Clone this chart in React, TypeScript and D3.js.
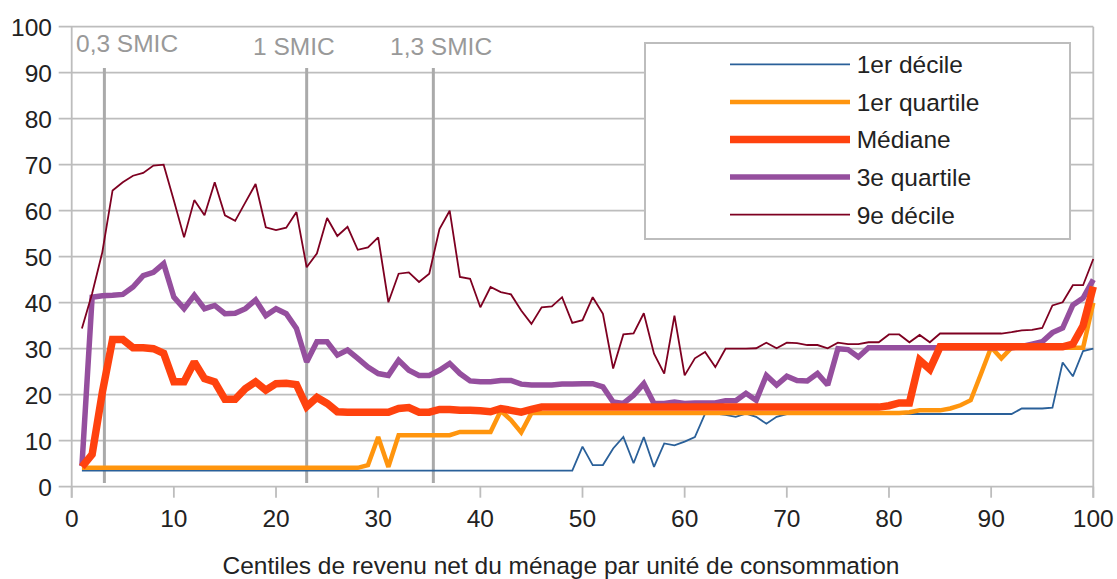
import React from 'react'
import * as d3 from 'd3'

// centiles 1..100
const decile1 = [
  3.5, 3.5, 3.5, 3.5, 3.5, 3.5, 3.5, 3.5, 3.5, 3.5,
  3.5, 3.5, 3.5, 3.5, 3.5, 3.5, 3.5, 3.5, 3.5, 3.5,
  3.5, 3.5, 3.5, 3.5, 3.5, 3.5, 3.5, 3.5, 3.5, 3.5,
  3.5, 3.5, 3.5, 3.5, 3.5, 3.5, 3.5, 3.5, 3.5, 3.5,
  3.5, 3.5, 3.5, 3.5, 3.5, 3.5, 3.5, 3.5, 3.5, 8.7,
  4.7, 4.7, 8.3, 10.8, 5.1, 10.8, 4.3, 9.4, 9, 9.8,
  10.8, 15.9, 15.9, 15.6, 15.2, 15.9, 15.2, 13.7, 15.2, 15.8,
  15.8, 15.8, 15.8, 15.8, 15.8, 15.8, 15.8, 15.8, 15.8, 15.8,
  15.8, 15.8, 15.8, 15.8, 15.8, 15.8, 15.8, 15.8, 15.8, 15.8,
  15.8, 15.8, 17, 17, 17, 17.2, 27, 24, 29.5, 30
]

const quartile1 = [
  4.1, 4.1, 4.1, 4.1, 4.1, 4.1, 4.1, 4.1, 4.1, 4.1,
  4.1, 4.1, 4.1, 4.1, 4.1, 4.1, 4.1, 4.1, 4.1, 4.1,
  4.1, 4.1, 4.1, 4.1, 4.1, 4.1, 4.1, 4.1, 4.7, 10.8,
  4.3, 11.2, 11.2, 11.2, 11.2, 11.2, 11.2, 11.9, 11.9, 11.9,
  11.9, 16.5, 14.5, 11.8, 16, 16, 16, 16, 16, 16,
  16, 16, 16, 16, 16, 16, 16, 16, 16, 16,
  16, 16, 16, 16, 16, 16, 16, 16, 16, 16,
  16, 16, 16, 16, 16, 16, 16, 16, 16, 16,
  16, 16.2, 16.6, 16.6, 16.6, 17, 17.7, 18.8, 24.5, 30.3,
  27.9, 30.2, 30.2, 30.2, 30.2, 30.2, 30.2, 30.2, 30.2, 40
]

const mediane = [
  4.3, 7, 20.5, 32, 32, 30.2, 30.2, 30, 29, 22.8,
  22.8, 27.1, 23.5, 22.8, 19, 19, 21.3, 22.8, 21, 22.4,
  22.5, 22.2, 17.4, 19.4, 18.1, 16.3, 16.2, 16.2, 16.2, 16.2,
  16.2, 17, 17.2, 16.2, 16.2, 16.8, 16.8, 16.6, 16.6, 16.5,
  16.3, 17, 16.6, 16.2, 16.8, 17.3, 17.3, 17.3, 17.3, 17.3,
  17.3, 17.3, 17.3, 17.3, 17.3, 17.3, 17.3, 17.3, 17.3, 17.3,
  17.3, 17.3, 17.3, 17.3, 17.3, 17.3, 17.3, 17.3, 17.3, 17.3,
  17.3, 17.3, 17.3, 17.3, 17.3, 17.3, 17.3, 17.3, 17.3, 17.6,
  18.2, 18.2, 27.5, 25.5, 30.4, 30.4, 30.4, 30.4, 30.4, 30.4,
  30.4, 30.4, 30.4, 30.4, 30.4, 30.4, 30.4, 31, 35, 43.5
]

const quartile3 = [
  4.5, 41.2, 41.5, 41.6, 41.8, 43.4, 45.9, 46.6, 48.5, 41.2,
  38.7, 41.6, 38.7, 39.4, 37.6, 37.7, 38.7, 40.6, 37.2, 38.7,
  37.6, 34.4, 27.1, 31.5, 31.5, 28.6, 29.7, 27.9, 26, 24.6,
  24.2, 27.5, 25.3, 24.2, 24.2, 25.3, 26.8, 24.6, 23, 22.8,
  22.8, 23.1, 23.1, 22.3, 22.1, 22.1, 22.1, 22.3, 22.3, 22.4,
  22.4, 21.7, 18.4, 18.1, 19.9, 22.4, 18.1, 18.1, 18.4, 18.1,
  18.2, 18.2, 18.2, 18.7, 18.7, 20.3, 18.8, 24.2, 22.1, 24,
  23.1, 23, 24.6, 22.1, 30, 29.8, 28.2, 30.2, 30.2, 30.2,
  30.2, 30.2, 30.2, 30.2, 30.2, 30.2, 30.2, 30.2, 30.2, 30.2,
  30.2, 30.2, 30.5, 31, 31.5, 33.5, 34.5, 39.5, 41, 45
]

const decile9 = [
  34.4, 42, 51, 64.4, 66.2, 67.6, 68.2, 69.8, 70, 62.2,
  54.2, 62.3, 59, 66.2, 59, 57.8, 61.8, 65.8, 56.4, 55.8,
  56.3, 59.7, 47.7, 50.7, 58.4, 54.5, 56.5, 51.5, 52, 54.2,
  40.1, 46.3, 46.6, 44.5, 46.3, 56, 60, 45.6, 45.2, 39,
  43.4, 42.3, 41.8, 38.3, 35.4, 39, 39.2, 41.2, 35.6, 36.2,
  41.2, 37.6, 25.7, 33.1, 33.3, 37.7, 28.9, 24.6, 37.2, 24.2,
  27.9, 29.3, 26, 30, 30, 30, 30.1, 31.3, 30.1, 31.3,
  31.2, 30.8, 30.8, 30.1, 31.3, 31, 31, 31.4, 31.4, 33.1,
  33.1, 31.4, 33, 31.4, 33.3, 33.3, 33.3, 33.3, 33.3, 33.3,
  33.3, 33.6, 34, 34.1, 34.5, 39.4, 40.1, 43.8, 43.8, 49.5
]

const seriesNames = ['1er décile', '1er quartile', 'Médiane', '3e quartile', '9e décile']
const xTicks = [0, 10, 20, 30, 40, 50, 60, 70, 80, 90, 100]
const yTicks = [0, 10, 20, 30, 40, 50, 60, 70, 80, 90, 100]
const smicLabels = ['0,3 SMIC', '1 SMIC', '1,3 SMIC']
const smicCentiles = [3.2, 23, 35.4]
const xTitle = 'Centiles de revenu net du ménage par unité de consommation'

const W = 1117
const H = 579
const plot = { left: 71.7, right: 1093.3, top: 26.7, bottom: 486.7 }
const font = '"Liberation Sans", Arial, sans-serif'
const fs = 24.5

const styles = [
  { color: '#2a6099', width: 1.8 },
  { color: '#ff950e', width: 4.5 },
  { color: '#ff420e', width: 7.5 },
  { color: '#954f9e', width: 5.5 },
  { color: '#7e0021', width: 1.8 }
]
// draw order: the median sits above the 3rd quartile
const drawOrder = [0, 1, 3, 2, 4]
const smicLabelX = [76, 253, 390]
const smicLabelY = [52, 55, 55]

export default function App() {
  const x = d3.scaleLinear().domain([0, 100]).range([plot.left, plot.right])
  const y = d3.scaleLinear().domain([0, 100]).range([plot.bottom, plot.top])
  const all = [decile1, quartile1, mediane, quartile3, decile9]
  const line = d3.line<number>().x((_, i) => x(i + 1)).y(d => y(d))
  const grid = '#bdbdbd'

  return (
    <svg width={W} height={H} style={{ position: 'absolute', left: 0, top: 0, background: '#fff' }}
      fontFamily={font}>
      <rect width={W} height={H} fill="#fff" />
      {yTicks.map(t => (
        <g key={'y' + t}>
          <line x1={plot.left - 13} x2={plot.right} y1={y(t)} y2={y(t)} stroke={grid} strokeWidth={1.8} />
          <text x={52} y={y(t)} dy="0.36em" textAnchor="end" fontSize={fs} fill="#222">{t}</text>
        </g>
      ))}
      <line x1={x(0)} x2={x(0)} y1={plot.top} y2={plot.bottom + 11} stroke={grid} strokeWidth={1.8} />
      <line x1={x(100)} x2={x(100)} y1={plot.top} y2={plot.bottom + 11} stroke={grid} strokeWidth={1.8} />
      {xTicks.map(t => (
        <g key={'x' + t}>
          <line x1={x(t)} x2={x(t)} y1={plot.bottom} y2={plot.bottom + 11} stroke={grid} strokeWidth={1.8} />
          <text x={x(t)} y={527} textAnchor="middle" fontSize={fs} fill="#222">{t}</text>
        </g>
      ))}
      <text x={561} y={574} textAnchor="middle" fontSize={fs} fill="#222">{xTitle}</text>

      {smicCentiles.map((c, i) => (
        <g key={'s' + i}>
          <line x1={x(c)} x2={x(c)} y1={y(91)} y2={y(0.8)} stroke="#aaaaaa" strokeWidth={3} />
          <text x={smicLabelX[i]} y={smicLabelY[i]} fontSize={fs} fill="#999">{smicLabels[i]}</text>
        </g>
      ))}

      {drawOrder.map(k => (
        <path key={'l' + k} d={line(all[k]) || ''} fill="none" stroke={styles[k].color}
          strokeWidth={styles[k].width} strokeLinejoin="miter" strokeMiterlimit={2} />
      ))}

      <rect x={645} y={43} width={425} height={196} fill="#fff" stroke={grid} strokeWidth={2} />
      {seriesNames.map((n, i) => {
        const ry = 64.3 + i * 37.6
        return (
          <g key={'lg' + i}>
            <line x1={730} x2={850} y1={ry} y2={ry} stroke={styles[i].color} strokeWidth={styles[i].width} />
            <text x={856.7} y={ry} dy="0.36em" fontSize={fs} fill="#222">{n}</text>
          </g>
        )
      })}
    </svg>
  )
}
